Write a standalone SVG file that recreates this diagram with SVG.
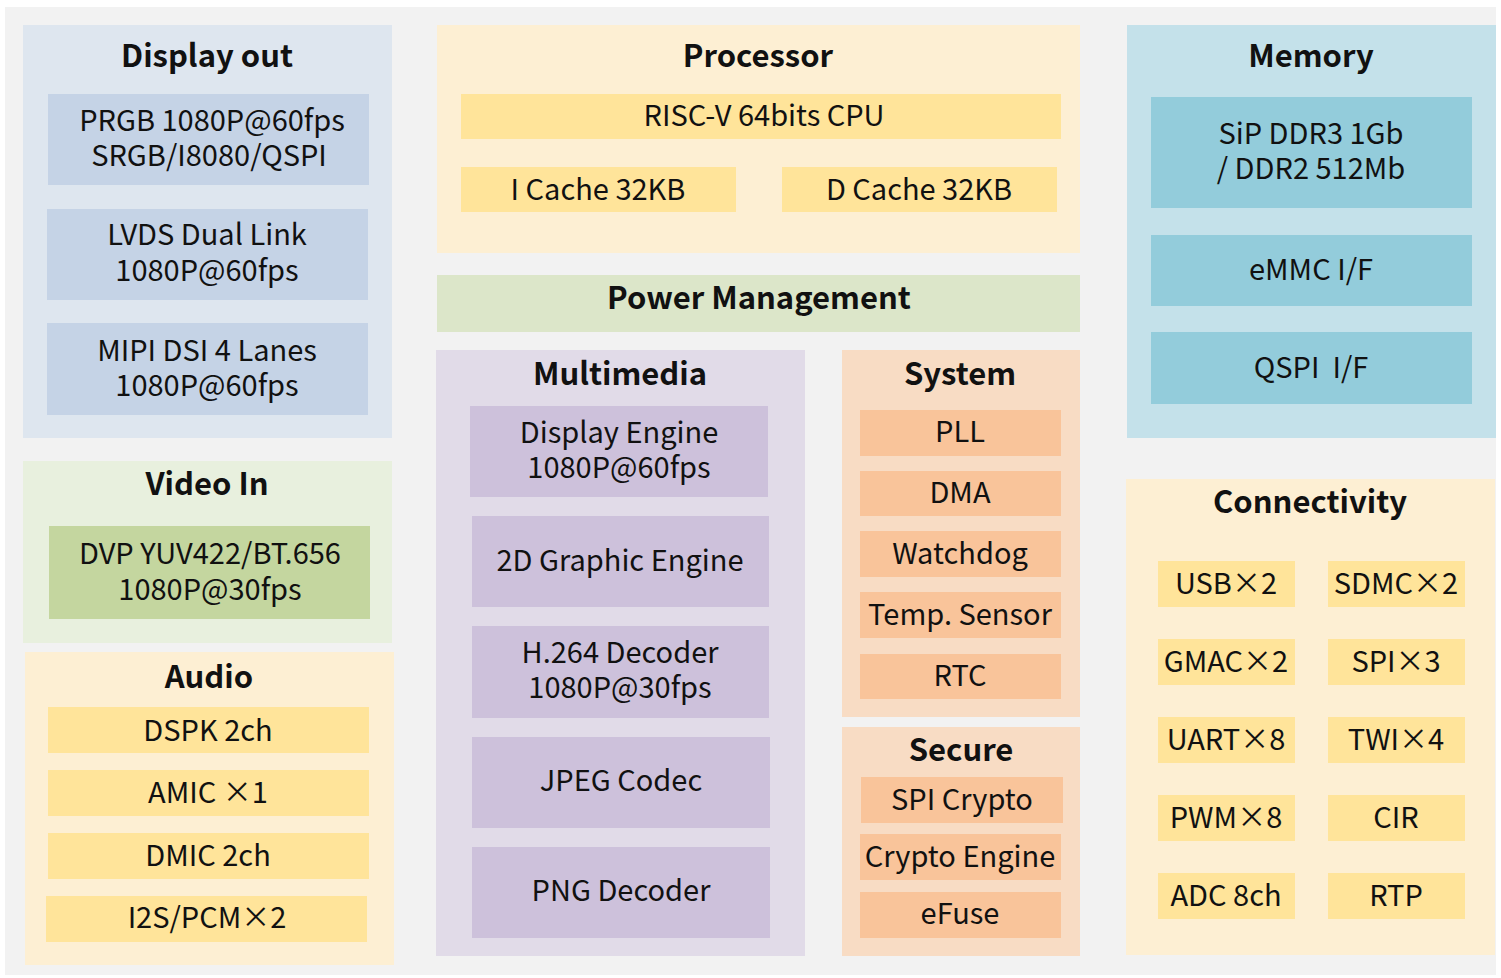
<svg xmlns="http://www.w3.org/2000/svg" width="1501" height="978" viewBox="0 0 1501 978">
<style>
text{font-family:"Noto Sans CJK SC","Noto Sans",sans-serif;fill:#111;text-anchor:middle;dominant-baseline:central}
.t{font-size:31px;font-weight:bold}
.b{font-size:29px}
.pre{white-space:pre}
.pd{fill:#dee6ef}.id{fill:#c5d3e6}
.pv{fill:#e8f0de}.iv{fill:#c4d69f}
.py{fill:#fdefd3}.iy{fill:#ffe49a}
.pm{fill:#e1dbe8}.im{fill:#cdc1db}
.po{fill:#f8dcc4}.io{fill:#f9c49a}
.pb{fill:#c4e1ea}.ib{fill:#93ccdb}
</style>
<rect x="0" y="0" width="1501" height="978" fill="#ffffff"/>
<rect x="5" y="7" width="1491" height="968" fill="#f2f2f2"/>

<g id="display-out">
<rect class="pd" x="23" y="25" width="369" height="413"/>
<text class="t" x="207" y="53">Display out</text>
<rect class="id" x="48" y="94" width="321" height="91"/>
<text class="b"><tspan x="212" y="118">PRGB 1080P@60fps</tspan><tspan x="209" y="153">SRGB/I8080/QSPI</tspan></text>
<rect class="id" x="47" y="209" width="321" height="91"/>
<text class="b"><tspan x="207" y="232">LVDS Dual Link</tspan><tspan x="207" y="268">1080P@60fps</tspan></text>
<rect class="id" x="47" y="323" width="321" height="92"/>
<text class="b"><tspan x="207" y="348">MIPI DSI 4 Lanes</tspan><tspan x="207" y="383">1080P@60fps</tspan></text>
</g>

<g id="video-in">
<rect class="pv" x="23" y="461" width="369" height="182"/>
<text class="t" x="207" y="481">Video In</text>
<rect class="iv" x="49" y="526" width="321" height="93"/>
<text class="b"><tspan x="210" y="551">DVP YUV422/BT.656</tspan><tspan x="210" y="587">1080P@30fps</tspan></text>
</g>

<g id="audio">
<rect class="py" x="25" y="652" width="369" height="313"/>
<text class="t" x="209" y="674">Audio</text>
<rect class="iy" x="48" y="707" width="321" height="46"/>
<text class="b" x="208" y="728">DSPK 2ch</text>
<rect class="iy" x="48" y="770" width="321" height="46"/>
<text class="b" x="208" y="790">AMIC ×1</text>
<rect class="iy" x="48" y="833" width="321" height="46"/>
<text class="b" x="208" y="853">DMIC 2ch</text>
<rect class="iy" x="46" y="896" width="321" height="46"/>
<text class="b" x="207" y="915">I2S/PCM×2</text>
</g>

<g id="processor">
<rect class="py" x="437" y="25" width="643" height="228"/>
<text class="t" x="758" y="53">Processor</text>
<rect class="iy" x="461" y="94" width="600" height="45"/>
<text class="b" x="764" y="113">RISC-V 64bits CPU</text>
<rect class="iy" x="461" y="167" width="275" height="45"/>
<text class="b" x="598" y="187">I Cache 32KB</text>
<rect class="iy" x="782" y="167" width="275" height="45"/>
<text class="b" x="919" y="187">D Cache 32KB</text>
</g>

<g id="power-management">
<rect x="437" y="275" width="643" height="57" fill="#dce6c9"/>
<text class="t" x="759" y="295">Power Management</text>
</g>

<g id="multimedia">
<rect class="pm" x="436" y="350" width="369" height="606"/>
<text class="t" x="620" y="371">Multimedia</text>
<rect class="im" x="470" y="406" width="298" height="91"/>
<text class="b"><tspan x="619" y="430">Display Engine</tspan><tspan x="619" y="465">1080P@60fps</tspan></text>
<rect class="im" x="472" y="516" width="297" height="91"/>
<text class="b" x="620" y="558">2D Graphic Engine</text>
<rect class="im" x="472" y="626" width="297" height="92"/>
<text class="b"><tspan x="620" y="650">H.264 Decoder</tspan><tspan x="620" y="685">1080P@30fps</tspan></text>
<rect class="im" x="472" y="737" width="298" height="91"/>
<text class="b" x="621" y="778">JPEG Codec</text>
<rect class="im" x="472" y="847" width="298" height="91"/>
<text class="b" x="621" y="888">PNG Decoder</text>
</g>

<g id="system">
<rect class="po" x="842" y="350" width="238" height="367"/>
<text class="t" x="960" y="371">System</text>
<rect class="io" x="860" y="410" width="201" height="46"/>
<text class="b" x="960" y="429">PLL</text>
<rect class="io" x="860" y="471" width="201" height="45"/>
<text class="b" x="960" y="490">DMA</text>
<rect class="io" x="860" y="531" width="201" height="46"/>
<text class="b" x="960" y="551">Watchdog</text>
<rect class="io" x="860" y="592" width="201" height="46"/>
<text class="b" x="960" y="612">Temp. Sensor</text>
<rect class="io" x="860" y="654" width="201" height="45"/>
<text class="b" x="960" y="673">RTC</text>
</g>

<g id="secure">
<rect class="po" x="842" y="727" width="238" height="229"/>
<text class="t" x="961" y="747">Secure</text>
<rect class="io" x="861" y="777" width="202" height="46"/>
<text class="b" x="962" y="797">SPI Crypto</text>
<rect class="io" x="860" y="834" width="201" height="46"/>
<text class="b" x="960" y="854">Crypto Engine</text>
<rect class="io" x="860" y="892" width="201" height="46"/>
<text class="b" x="960" y="911">eFuse</text>
</g>

<g id="memory">
<rect class="pb" x="1127" y="25" width="369" height="413"/>
<text class="t" x="1311" y="53">Memory</text>
<rect class="ib" x="1151" y="97" width="321" height="111"/>
<text class="b"><tspan x="1311" y="131">SiP DDR3 1Gb</tspan><tspan x="1311" y="166">/ DDR2 512Mb</tspan></text>
<rect class="ib" x="1151" y="235" width="321" height="71"/>
<text class="b" x="1311" y="267">eMMC I/F</text>
<rect class="ib" x="1151" y="332" width="321" height="72"/>
<text class="b pre" x="1311" y="365">QSPI  I/F</text>
</g>

<g id="connectivity">
<rect class="py" x="1126" y="479" width="369" height="476"/>
<text class="t" x="1310" y="499">Connectivity</text>
<rect class="iy" x="1158" y="561" width="137" height="46"/>
<text class="b" x="1226" y="581">USB×2</text>
<rect class="iy" x="1328" y="561" width="137" height="46"/>
<text class="b" x="1396" y="581">SDMC×2</text>
<rect class="iy" x="1158" y="639" width="137" height="46"/>
<text class="b" x="1226" y="659">GMAC×2</text>
<rect class="iy" x="1328" y="639" width="137" height="46"/>
<text class="b" x="1396" y="659">SPI×3</text>
<rect class="iy" x="1158" y="717" width="137" height="46"/>
<text class="b" x="1226" y="737">UART×8</text>
<rect class="iy" x="1328" y="717" width="137" height="46"/>
<text class="b" x="1396" y="737">TWI×4</text>
<rect class="iy" x="1158" y="795" width="137" height="46"/>
<text class="b" x="1226" y="815">PWM×8</text>
<rect class="iy" x="1328" y="795" width="137" height="46"/>
<text class="b" x="1396" y="815">CIR</text>
<rect class="iy" x="1158" y="873" width="137" height="46"/>
<text class="b" x="1226" y="893">ADC 8ch</text>
<rect class="iy" x="1328" y="873" width="137" height="46"/>
<text class="b" x="1396" y="893">RTP</text>
</g>

<g id="connectors"></g>
</svg>
